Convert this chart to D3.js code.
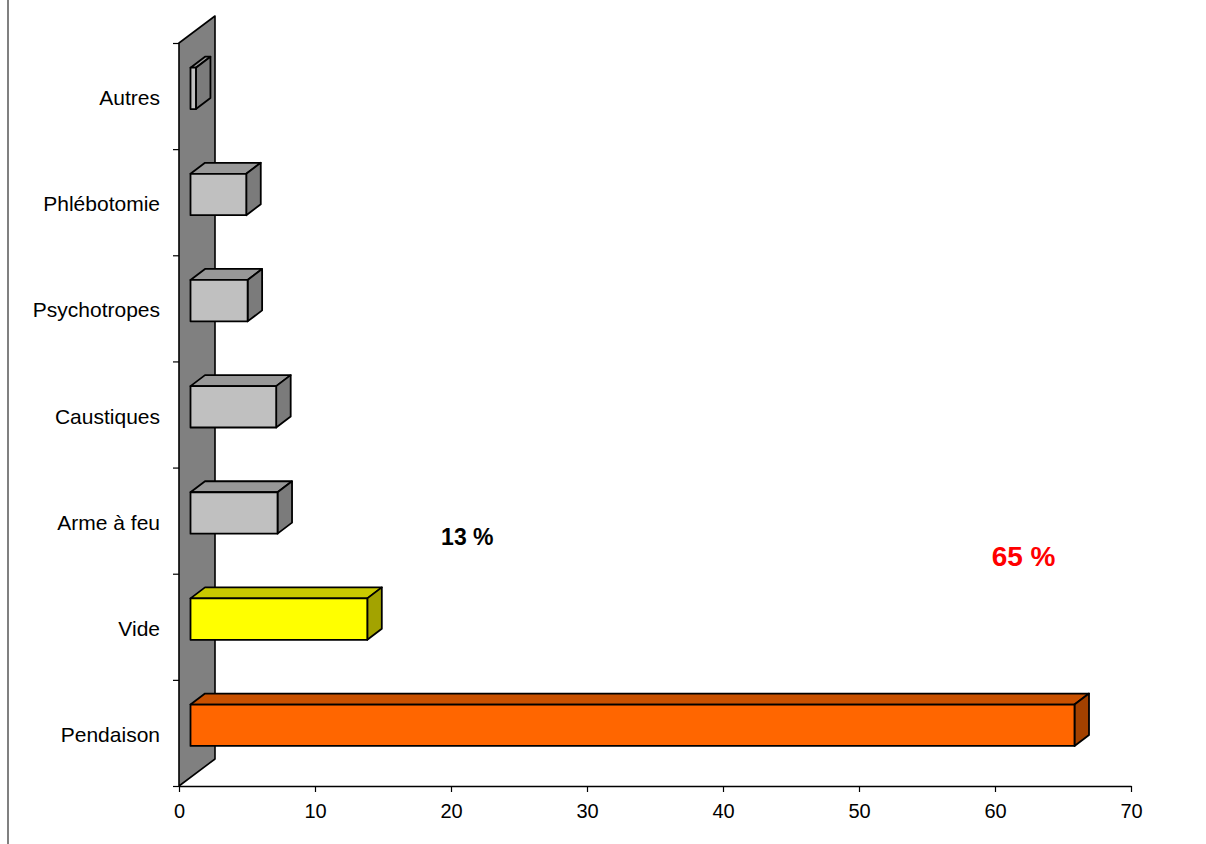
<!DOCTYPE html>
<html>
<head>
<meta charset="utf-8">
<script src="https://cdn.jsdelivr.net/npm/d3@7"></script>
<style>
  html, body { margin: 0; padding: 0; background: #fff; }
  svg { display: block; font-family: "Liberation Sans", Arial, sans-serif; }
</style>
</head>
<body>
<svg id="chart" width="1206" height="844"></svg>
<script>
// Méthodes de suicide (%)
const categories = ["Autres", "Phlébotomie", "Psychotropes", "Caustiques", "Arme à feu", "Vide", "Pendaison"];
const values     = [0.4, 4.1, 4.2, 6.3, 6.4, 13, 65];
const frontColors = ["#c0c0c0", "#c0c0c0", "#c0c0c0", "#c0c0c0", "#c0c0c0", "#ffff00", "#ff6600"];
const xTicks = [0, 10, 20, 30, 40, 50, 60, 70];
const annotations = [
  { text: "13 %", value: 21.2, row: "Arme à feu", color: "#000000", size: 23 },
  { text: "65 %", value: 62.1, row: "Vide", color: "#ff0000", size: 28 }
];

const svg = d3.select("#chart");

// plot frame on the front plane
const plotLeft = 179, plotRight = 1131, plotTop = 43, plotBottom = 786;
// depth of the side wall and of each bar (oblique projection)
const wallDX = 36, wallDY = -27;
const barOX = 11.5, barOY = -7.7;
const barDX = 14.5, barDY = -11;

const x = d3.scaleLinear().domain([0, 70]).range([plotLeft, plotRight]);
const y = d3.scaleBand().domain(categories).range([plotTop, plotBottom])
  .paddingInner(0.61).paddingOuter(0.305);
const yRows = d3.scaleLinear().domain([0, categories.length]).range([plotBottom, plotTop]);

// left border of the frame
svg.append("line")
  .attr("x1", 8).attr("x2", 8).attr("y1", 0).attr("y2", 844)
  .attr("stroke", "#808080").attr("stroke-width", 2);

// side wall
svg.append("path")
  .attr("d", d3.line()([
    [plotLeft, plotBottom], [plotLeft, plotTop],
    [plotLeft + wallDX, plotTop + wallDY], [plotLeft + wallDX, plotBottom + wallDY]
  ]) + "Z")
  .attr("fill", "#808080").attr("stroke", "#000").attr("stroke-width", 1.6)
  .attr("stroke-linejoin", "round");

// row ticks at the wall's front edge
svg.append("g")
  .attr("transform", `translate(${plotLeft},0)`)
  .call(d3.axisLeft(yRows).ticks(categories.length).tickSize(6).tickFormat(""))
  .call(g => g.select(".domain").remove())
  .call(g => g.selectAll(".tick line").attr("stroke", "#000").attr("stroke-width", 1.2));

// bars as boxes
const shade = (c, k) => { const h = d3.rgb(c); return d3.rgb(h.r * k, h.g * k, h.b * k).formatHex(); };
const bars = svg.append("g").selectAll("g")
  .data(categories.map((c, i) => ({ c, v: values[i], col: frontColors[i] })))
  .join("g");

bars.each(function(d) {
  const g = d3.select(this);
  const x0 = x(0) + barOX, x1 = x(d.v) + barOX;
  const yt = y(d.c) + barOY, yb = yt + y.bandwidth();
  const face = (pts, fill) => g.append("path")
    .attr("d", d3.line()(pts) + "Z").attr("fill", fill)
    .attr("stroke", "#000").attr("stroke-width", 1.8).attr("stroke-linejoin", "round");
  face([[x0, yt], [x1, yt], [x1 + barDX, yt + barDY], [x0 + barDX, yt + barDY]], shade(d.col, 0.79));
  face([[x1, yt], [x1 + barDX, yt + barDY], [x1 + barDX, yb + barDY], [x1, yb]], shade(d.col, 0.64));
  face([[x0, yt], [x1, yt], [x1, yb], [x0, yb]], d.col);
});

// category axis labels
svg.append("g").selectAll("text").data(categories).join("text")
  .attr("x", 160)
  .attr("y", d => y(d) + y.bandwidth() / 2 + 1.5)
  .attr("text-anchor", "end")
  .attr("dominant-baseline", "central")
  .attr("font-size", 21)
  .attr("fill", "#000")
  .text(d => d);

// value axis
svg.append("g")
  .attr("transform", `translate(0,${plotBottom})`)
  .call(d3.axisBottom(x).tickValues(xTicks).tickSize(6).tickSizeOuter(0).tickPadding(12))
  .call(g => g.select(".domain").attr("stroke", "#000").attr("stroke-width", 1.6))
  .call(g => g.selectAll(".tick line").attr("stroke", "#000").attr("stroke-width", 1.2))
  .call(g => g.selectAll(".tick text").attr("font-size", 20)
    .attr("font-family", "'Liberation Sans', Arial, sans-serif").attr("fill", "#000"));

// percentage annotations
svg.append("g").selectAll("text").data(annotations).join("text")
  .attr("x", d => x(d.value))
  .attr("y", d => d.row === "Vide" ? 566 : 545)
  .attr("text-anchor", "middle")
  .attr("font-weight", "bold")
  .attr("font-size", d => d.size)
  .attr("fill", d => d.color)
  .text(d => d.text);
</script>
</body>
</html>
